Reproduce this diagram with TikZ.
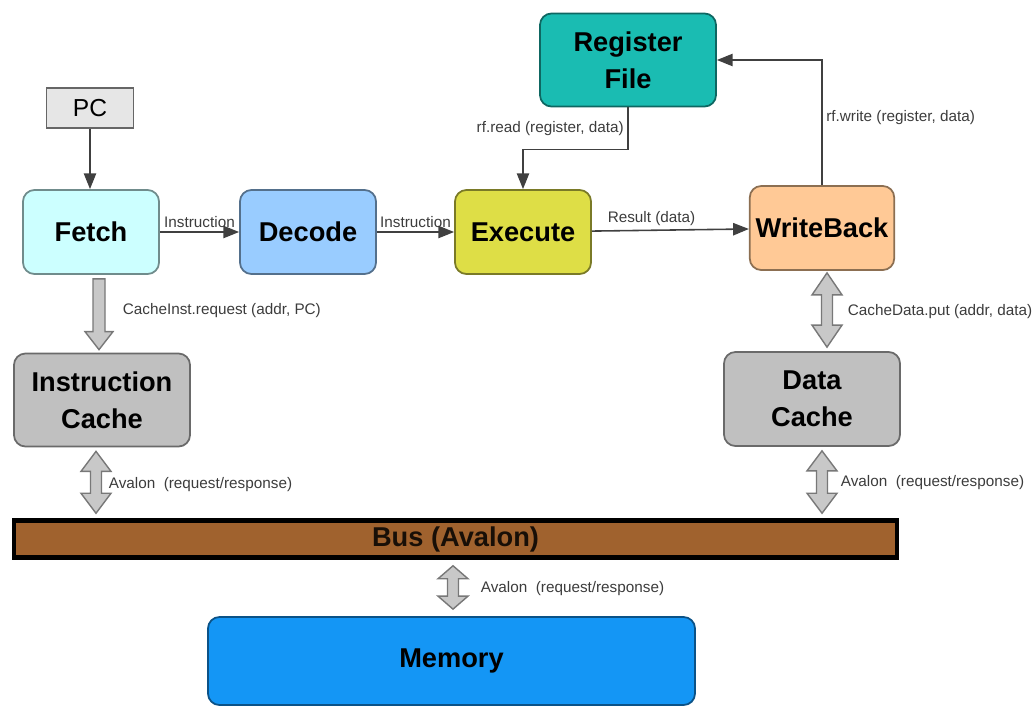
\documentclass[tikz,border=0pt]{standalone}
\usepackage{fontspec}
\setmainfont{Liberation Sans}
\usetikzlibrary{arrows.meta,calc}
\definecolor{FetchCyan}{RGB}{204,255,255}
\definecolor{DecodeBlue}{RGB}{153,204,255}
\definecolor{ExecYellow}{RGB}{222,222,70}
\definecolor{RegTeal}{RGB}{26,188,178}
\definecolor{WbPeach}{RGB}{255,201,150}
\definecolor{CacheGray}{RGB}{192,192,192}
\definecolor{BusBrown}{RGB}{160,98,46}
\definecolor{MemBlue}{RGB}{20,150,245}
\definecolor{PcGray}{RGB}{230,230,230}
\definecolor{Wire}{RGB}{64,64,64}
\definecolor{LabelGray}{RGB}{60,60,60}
\definecolor{FatFill}{RGB}{200,200,200}
\definecolor{FatEdge}{RGB}{120,120,120}

\tikzset{
  stage/.style={rounded corners=6.5pt, draw=#1!55!black, fill=#1, line width=1pt,
    font=\fontsize{15.5}{21}\selectfont\bfseries, align=center,
    minimum width=2.72cm, minimum height=1.68cm},
  wire/.style={Wire, line width=0.9pt, -{Triangle[length=9pt,width=7pt]}},
  lbl/.style={font=\fontsize{8.7}{10}\selectfont, text=LabelGray, inner sep=2pt},
  fatarrow/.style={fill=FatFill, draw=FatEdge, line width=0.8pt, line join=miter},
}

% fat two-headed arrow, top point #1, bottom point #2, head length #3
\newcommand{\fatdouble}[3]{%
  \draw[fatarrow] let \p1=(#1), \p2=(#2) in
    (\x1,\y1) -- ({\x1+0.3cm},{\y1-#3}) -- ({\x1+0.11cm},{\y1-#3})
    -- ({\x1+0.11cm},{\y2+#3}) -- ({\x1+0.3cm},{\y2+#3}) -- (\x1,\y2)
    -- ({\x1-0.3cm},{\y2+#3}) -- ({\x1-0.11cm},{\y2+#3})
    -- ({\x1-0.11cm},{\y1-#3}) -- ({\x1-0.3cm},{\y1-#3}) -- cycle;}

% fat one-headed arrow, pointing down
\newcommand{\fatsingle}[2]{%
  \draw[fatarrow] let \p1=(#1), \p2=(#2) in
    ({\x1-0.12cm},\y1) -- ({\x1+0.12cm},\y1) -- ({\x1+0.12cm},{\y2+0.36cm})
    -- ({\x1+0.28cm},{\y2+0.36cm}) -- (\x1,\y2) -- ({\x1-0.28cm},{\y2+0.36cm})
    -- ({\x1-0.12cm},{\y2+0.36cm}) -- cycle;}

\begin{document}
\begin{tikzpicture}
\useasboundingbox (0,0) rectangle (20.7,-14.14);

% Pipeline stages
\node[draw=black!60, fill=PcGray, line width=0.8pt, minimum width=1.74cm,
  minimum height=0.8cm, font=\fontsize{14}{16}\selectfont] (pc) at (1.80,-2.16) {PC};
\node[stage=FetchCyan] (fetch) at (1.82,-4.64) {Fetch};
\node[stage=DecodeBlue] (decode) at (6.16,-4.64) {Decode};
\node[stage=ExecYellow] (execute) at (10.46,-4.64) {Execute};
\node[stage=RegTeal, minimum width=3.52cm, minimum height=1.86cm] (regfile) at (12.56,-1.20) {Register\\File};
\node[stage=WbPeach, minimum width=2.70cm] (writeback) at (16.44,-4.56) {WriteBack};

% Caches, bus, memory
\node[stage=CacheGray, minimum width=3.52cm, minimum height=1.86cm] (icache) at (2.04,-8.00) {Instruction\\Cache};
\node[stage=CacheGray, minimum width=3.52cm, minimum height=1.88cm] (dcache) at (16.24,-7.98) {Data\\Cache};
\node[draw=black, line width=2.5pt, fill=BusBrown, minimum width=17.66cm, minimum height=0.74cm,
  font=\fontsize{15.5}{18}\selectfont\bfseries, text=black!85!BusBrown] (bus) at (9.11,-10.78) {Bus (Avalon)};
\node[stage=MemBlue, minimum width=9.74cm, minimum height=1.76cm] (memory) at (9.03,-13.22) {Memory};

% Control and data flow
\draw[wire] (pc.south) -- (pc.south |- fetch.north);
\draw[wire] (fetch) -- node[lbl, above] (instlblA) {Instruction} (decode);
\draw[wire] (decode) -- node[lbl, above] (instlblB) {Instruction} (execute);
\draw[wire] (execute) -- node[lbl, above, pos=0.38] (resultlbl) {Result (data)} (writeback);
\draw[wire] (regfile.south) -- node[lbl, left] (rdlbl) {rf.read (register, data)} ++(0,-0.84) -| (execute.north);
\draw[wire] (writeback.north) |- node[lbl, right, pos=0.27] (wrlbl) {rf.write (register, data)} (regfile.east);

% Memory side
\fatsingle{[xshift=0.16cm,yshift=-0.08cm]fetch.south}{[yshift=0.06cm]icache.north}
\fatdouble{[xshift=0.1cm,yshift=-0.04cm]writeback.south}{[yshift=0.08cm]dcache.north}{0.44cm}
\fatdouble{[xshift=-0.12cm,yshift=-0.08cm]icache.south}{[yshift=0.1cm]bus.north}{0.4cm}
\fatdouble{[xshift=0.2cm,yshift=-0.08cm]dcache.south}{[yshift=0.1cm]bus.north}{0.4cm}
\fatdouble{[xshift=-0.05cm,yshift=-0.12cm]bus.south}{[yshift=0.14cm]memory.north}{0.26cm}

\node[lbl, right] (cacheinstlbl) at (2.38,-6.22) {CacheInst.request (addr, PC)};
\node[lbl, right] (cachedatalbl) at (16.88,-6.24) {CacheData.put (addr, data)};
\node[lbl, right] (avalonlblA) at (2.10,-9.70) {Avalon\ \ (request/response)};
\node[lbl, right] (avalonlblB) at (16.74,-9.66) {Avalon\ \ (request/response)};
\node[lbl, right] (avalonlblC) at (9.54,-11.78) {Avalon\ \ (request/response)};

\end{tikzpicture}
\end{document}
